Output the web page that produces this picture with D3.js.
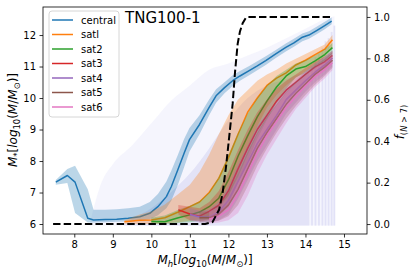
<!DOCTYPE html>
<html><head><meta charset="utf-8">
<script src="https://cdn.jsdelivr.net/npm/d3@7"></script>
<style>body{margin:0;background:#fff} svg{display:block;font-family:"DejaVu Sans",sans-serif}</style>
</head><body><svg id="c" width="416" height="275"></svg>
<script>
// ---------- data ----------
const centralX  = [7.52,7.82,8.02,8.35,8.5,8.8,9.1,9.4,9.7,9.96,10.17,10.39,10.52,10.69,10.85,10.99,11.25,11.5,11.68,11.9,12.11,12.3,12.54,12.75,12.97,13.2,13.49,13.7,13.92,14.09,14.3,14.5,14.68];
const centralY  = [7.33,7.54,7.33,6.18,6.13,6.14,6.15,6.18,6.23,6.34,6.55,6.87,7.19,7.73,8.25,8.68,9.16,9.7,10.07,10.33,10.55,10.7,10.87,11.02,11.19,11.38,11.61,11.75,11.93,12.0,12.15,12.3,12.44];
const centralLo = [7.25,7.3,6.35,6.05,6.05,6.06,6.07,6.08,6.1,6.15,6.28,6.5,6.75,7.25,7.8,8.3,8.85,9.45,9.85,10.15,10.38,10.55,10.72,10.88,11.05,11.25,11.48,11.63,11.8,11.88,12.03,12.18,12.34];
const centralHi = [7.4,7.75,7.85,7.1,6.45,6.45,6.47,6.5,6.55,6.7,6.95,7.35,7.7,8.2,8.7,9.05,9.45,9.95,10.28,10.5,10.72,10.86,11.02,11.17,11.33,11.5,11.73,11.88,12.05,12.12,12.27,12.42,12.56];

const satX  = [9.3,9.7,10.0,10.35,10.7,11.0,11.25,11.5,11.75,12.0,12.25,12.5,12.75,13.0,13.25,13.5,13.75,14.0,14.25,14.5,14.7];
const sat1Y  = [6.07,6.12,6.13,6.2,6.38,6.55,6.7,7.0,7.45,8.1,8.85,9.55,10.0,10.4,10.63,10.8,11.05,11.2,11.38,11.55,11.85];
const sat1Lo = [6.0,6.0,6.0,6.02,6.06,6.1,6.15,6.25,6.45,6.9,7.6,8.4,9.1,9.7,10.1,10.4,10.65,10.85,11.05,11.3,11.6];
const sat1Hi = [6.12,6.3,6.4,6.62,6.95,7.25,7.65,8.2,8.85,9.45,9.95,10.25,10.55,10.75,10.9,11.1,11.25,11.4,11.55,11.7,12.0];
const sat2Y  = [null,null,6.08,6.07,6.2,6.29,6.38,6.55,6.82,7.4,8.15,8.8,9.4,9.9,10.35,10.7,10.92,11.0,11.18,11.38,11.6];
const sat2Lo = [null,null,6.0,6.0,6.03,6.06,6.1,6.15,6.25,6.6,7.3,8.0,8.7,9.3,9.85,10.3,10.65,10.8,10.98,11.18,11.42];
const sat2Hi = [null,null,6.2,6.27,6.45,6.58,6.72,7.0,7.5,8.2,8.9,9.5,10.0,10.4,10.7,10.9,11.1,11.2,11.35,11.55,11.75];
const sat3Y  = [null,null,null,null,6.45,6.32,6.25,6.4,6.6,7.05,7.75,8.4,9.0,9.45,9.9,10.25,10.5,10.75,10.98,11.15,11.35];
const sat3Lo = [null,null,null,null,6.3,6.12,6.08,6.12,6.25,6.55,7.15,7.8,8.4,8.9,9.4,9.85,10.2,10.5,10.75,10.95,11.15];
const sat3Hi = [null,null,null,null,6.6,6.55,6.5,6.7,7.05,7.65,8.35,9.0,9.55,9.95,10.3,10.55,10.75,10.95,11.15,11.32,11.5];
const sat4Y  = [null,null,null,null,null,6.3,6.22,6.22,6.38,6.75,7.35,7.95,8.55,9.0,9.45,9.95,10.25,10.55,10.82,11.05,11.27];
const sat4Lo = [null,null,null,null,null,6.1,6.05,6.05,6.12,6.3,6.8,7.4,8.0,8.5,9.0,9.5,9.85,10.2,10.5,10.75,11.0];
const sat4Hi = [null,null,null,null,null,6.5,6.42,6.45,6.7,7.2,7.9,8.5,9.1,9.5,9.9,10.3,10.55,10.85,11.1,11.3,11.5];
const sat5Y  = [null,null,null,null,null,null,6.2,6.2,6.32,6.6,7.1,7.75,8.4,8.9,9.35,9.8,10.15,10.45,10.75,10.98,11.2];
const sat5Lo = [null,null,null,null,null,null,6.05,6.05,6.1,6.25,6.6,7.2,7.85,8.4,8.9,9.35,9.75,10.1,10.42,10.7,10.95];
const sat5Hi = [null,null,null,null,null,null,6.4,6.4,6.6,7.0,7.6,8.3,8.9,9.4,9.8,10.2,10.5,10.78,11.05,11.25,11.45];
const sat6Y  = [null,null,null,null,null,null,null,6.15,6.25,6.45,6.95,7.6,8.25,8.8,9.25,9.7,10.05,10.38,10.68,10.9,11.12];
const sat6Lo = [null,null,null,null,null,null,null,6.02,6.05,6.12,6.35,6.9,7.6,8.2,8.7,9.2,9.65,10.0,10.35,10.62,10.88];
const sat6Hi = [null,null,null,null,null,null,null,6.4,6.55,6.9,7.5,8.2,8.85,9.35,9.75,10.15,10.45,10.72,10.98,11.15,11.35];

const seriesNames = ["central","satl","sat2","sat3","sat4","sat5","sat6"];

const fracX = [7.45,8,9,10,11,11.4,11.59,11.76,11.85,11.94,12.02,12.11,12.17,12.24,12.3,12.37,12.45,12.5,13,14,14.7];
const fracY = [0,0,0,0,0,0,0.01,0.07,0.15,0.28,0.42,0.58,0.73,0.87,0.93,0.97,0.995,1,1,1,1];

// scatter cloud envelopes
const cloudX    = [8.4,8.7,9.0,9.5,10.0,10.5,11.0,11.5,12.0,12.5,13.0,13.5,14.0,14.5,14.75];
const cloudTop  = [6.0,7.3,7.9,8.5,9.2,9.9,10.4,10.9,11.1,11.35,11.6,11.9,12.2,12.5,12.6];
const denseX    = [9.3,9.5,10.0,10.5,11.0,11.5,12.0,12.5,13.0,13.5,14.0,14.1];
const denseTop  = [6.0,6.15,6.5,7.0,7.6,8.4,9.3,10.0,10.4,10.6,10.8,10.8];
const stripeX   = [14.17,14.26,14.35,14.44,14.52,14.6,14.68,14.75];
const stripeTop = [11.0,11.3,11.4,11.6,11.8,11.9,12.1,12.3];
const cloudBase = 5.95;

const xTicks = [8,9,10,11,12,13,14,15];
const yTicks = [6,7,8,9,10,11,12];
const fTicks = [0.0,0.2,0.4,0.6,0.8,1.0];

// ---------- drawing ----------
const colors = ["#1f77b4","#ff7f0e","#2ca02c","#d62728","#9467bd","#8c564b","#e377c2"];
const L = 43, R = 367, T = 7, B = 234;
const svg = d3.select("#c");
const x  = d3.scaleLinear([7.188, 15.597], [L, R]);
const y  = d3.scaleLinear([5.683, 12.89], [B, T]);
const yf = d3.scaleLinear([-0.048, 1.048], [B, T]);

svg.append("clipPath").attr("id","clp").append("rect")
  .attr("x",L).attr("y",T).attr("width",R-L).attr("height",B-T);
const g = svg.append("g").attr("clip-path","url(#clp)");

// cloud
const cloudArea = d3.area().x(d=>x(d[0])).y0(y(cloudBase)).y1(d=>y(d[1])).curve(d3.curveMonotoneX);
g.append("path").datum(d3.zip(cloudX,cloudTop)).attr("d",cloudArea)
  .attr("fill","#e6e6fa").attr("opacity",0.38);
g.append("path").datum(d3.zip(denseX,denseTop)).attr("d",cloudArea)
  .attr("fill","#e2e2f7").attr("opacity",0.95);
g.selectAll("line.stripe").data(d3.zip(stripeX,stripeTop)).join("line")
  .attr("x1",d=>x(d[0])).attr("x2",d=>x(d[0]))
  .attr("y1",y(cloudBase)).attr("y2",d=>y(d[1]))
  .attr("stroke","#e2e2f7").attr("stroke-width",1.8);

const bandArea = d3.area().defined(d=>d.lo!=null).x(d=>x(d.x)).y0(d=>y(d.lo)).y1(d=>y(d.hi));
const lineGen = d3.line().defined(d=>d.y!=null).x(d=>x(d.x)).y(d=>y(d.y));

const all = [
  {xs:centralX, ys:centralY, lo:centralLo, hi:centralHi},
  {xs:satX, ys:sat1Y, lo:sat1Lo, hi:sat1Hi},
  {xs:satX, ys:sat2Y, lo:sat2Lo, hi:sat2Hi},
  {xs:satX, ys:sat3Y, lo:sat3Lo, hi:sat3Hi},
  {xs:satX, ys:sat4Y, lo:sat4Lo, hi:sat4Hi},
  {xs:satX, ys:sat5Y, lo:sat5Lo, hi:sat5Hi},
  {xs:satX, ys:sat6Y, lo:sat6Lo, hi:sat6Hi}
];
all.forEach((s,i)=>{
  const pts = s.xs.map((xv,k)=>({x:xv, y:s.ys[k], lo:s.lo[k], hi:s.hi[k]}));
  g.append("path").datum(pts).attr("d",bandArea).attr("fill",colors[i]).attr("fill-opacity",0.3);
  g.append("path").datum(pts).attr("d",lineGen).attr("fill","none")
    .attr("stroke",colors[i]).attr("stroke-width",1.5).attr("stroke-linejoin","round");
});

// fraction line (twin axis)
g.append("path").datum(d3.zip(fracX,fracY))
  .attr("d", d3.line().x(d=>x(d[0])).y(d=>yf(d[1])))
  .attr("fill","none").attr("stroke","#000").attr("stroke-width",2)
  .attr("stroke-dasharray","7.4,3.2");

// axes
const fs = 10;
function styleAxis(sel){
  sel.selectAll("text").attr("font-size",fs).attr("fill","#000").attr("font-family","DejaVu Sans");
  sel.selectAll("line").attr("stroke","#000").attr("stroke-width",0.8);
  sel.select(".domain").remove();
}
svg.append("g").attr("transform",`translate(0,${B})`)
  .call(d3.axisBottom(x).tickValues(xTicks).tickFormat(d3.format("d")).tickSize(3.5).tickPadding(3.5)).call(styleAxis);
svg.append("g").attr("transform",`translate(${L},0)`)
  .call(d3.axisLeft(y).tickValues(yTicks).tickFormat(d3.format("d")).tickSize(3.5).tickPadding(3.5)).call(styleAxis);
svg.append("g").attr("transform",`translate(${R},0)`)
  .call(d3.axisRight(yf).tickValues(fTicks).tickFormat(d3.format(".1f")).tickSize(3.5).tickPadding(3.5)).call(styleAxis);
svg.append("rect").attr("x",L).attr("y",T).attr("width",R-L).attr("height",B-T)
  .attr("fill","none").attr("stroke","#000").attr("stroke-width",0.8);

// title
svg.append("text").attr("x",125).attr("y",23).attr("font-size",15).text("TNG100-1");

// legend
const lg = svg.append("g");
lg.append("rect").attr("x",49).attr("y",11).attr("width",70).attr("height",106).attr("rx",3)
  .attr("fill","#fff").attr("fill-opacity",0.8).attr("stroke","#cccccc").attr("stroke-width",0.8);
seriesNames.forEach((n,i)=>{
  const yy = 20 + i*14.5;
  lg.append("line").attr("x1",52).attr("x2",73).attr("y1",yy).attr("y2",yy)
    .attr("stroke",colors[i]).attr("stroke-width",1.5);
  lg.append("text").attr("x",81).attr("y",yy+3.6).attr("font-size",fs).text(n);
});

// axis labels (mathtext-like)
function mathLabel(parent, parts, size){
  const t = parent.append("text").attr("font-size",size);
  let shift = 0;
  parts.forEach(p=>{
    const ts = t.append("tspan").text(p.t);
    if (p.i) ts.attr("font-style","italic");
    const target = p.sub ? size*0.25 : 0;
    if (target !== shift) { ts.attr("dy", target - shift); shift = target; }
    if (p.sub) ts.attr("font-size", size*0.7);
  });
  return t;
}
mathLabel(svg.append("g").attr("transform","translate(205,264)"), [
  {t:"M",i:1},{t:"h",i:1,sub:1},{t:"["},{t:"log",i:1},{t:"10",sub:1},{t:"("},{t:"M",i:1},{t:"/"},{t:"M",i:1},{t:"⊙",sub:1},{t:")]"}
], 12).attr("text-anchor","middle");
mathLabel(svg.append("g").attr("transform","translate(17,120) rotate(-90)"), [
  {t:"M",i:1},{t:"*",sub:1},{t:"["},{t:"log",i:1},{t:"10",sub:1},{t:"("},{t:"M",i:1},{t:"/"},{t:"M",i:1},{t:"⊙",sub:1},{t:")]"}
], 12).attr("text-anchor","middle");
mathLabel(svg.append("g").attr("transform","translate(404,122) rotate(-90)"), [
  {t:"f",i:1},{t:"(",sub:1},{t:"N",i:1,sub:1},{t:" > 7)",sub:1}
], 12).attr("text-anchor","middle");
</script></body></html>
